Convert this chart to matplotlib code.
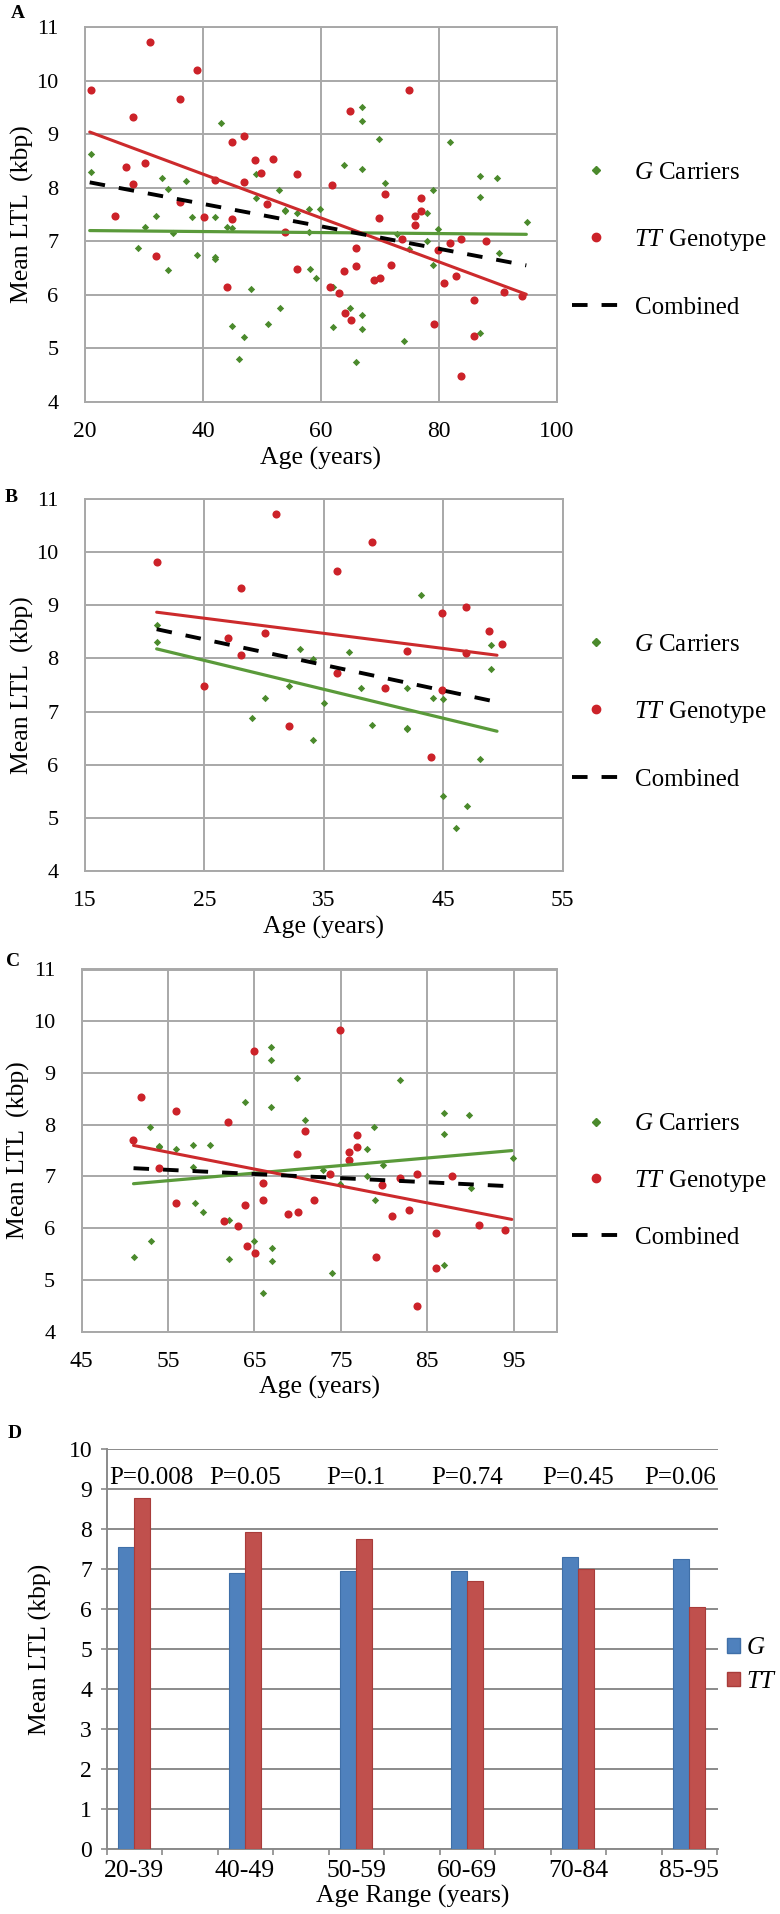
import numpy as np
import matplotlib
matplotlib.use('Agg')
import matplotlib.pyplot as plt
from matplotlib.lines import Line2D
from matplotlib.patches import Patch

plt.rcParams['font.family'] = 'Liberation Serif'
plt.rcParams['mathtext.fontset'] = 'custom'
plt.rcParams['mathtext.rm'] = 'Liberation Serif'
plt.rcParams['mathtext.it'] = 'Liberation Serif:italic'

# --- scatter data: G carriers (age, mean LTL) ---
g_age = [21.0, 21.0, 29.0, 30.1, 32.1, 33.0, 34.1, 34.1, 35.0, 37.1, 38.1, 39.0,
         42.0, 42.0, 42.0, 43.1, 44.1, 45.0, 45.0, 46.1, 47.0, 48.1, 49.0, 49.0,
         51.0, 52.9, 53.0, 53.9, 53.9, 55.9, 57.9, 57.9, 58.1, 59.1, 59.9, 62.0,
         62.0, 63.9, 65.0, 66.0, 66.9, 66.9, 66.9, 67.0, 67.0, 69.9, 70.9, 72.9,
         74.0, 74.9, 78.0, 78.0, 78.9, 79.9, 79.0, 81.9, 86.9, 86.9, 86.9, 89.9,
         90.1, 94.9]
g_ltl = [8.63, 8.30, 6.87, 7.26, 7.48, 8.18, 7.98, 6.47, 7.16, 8.13, 7.45, 6.75,
         7.45, 6.70, 6.67, 9.20, 7.26, 7.24, 5.42, 4.80, 5.22, 6.11, 7.81, 8.26,
         5.45, 7.96, 5.75, 7.59, 7.57, 7.53, 7.61, 7.18, 6.49, 6.32, 7.61, 6.15,
         5.40, 8.43, 5.75, 4.75, 9.50, 9.25, 8.34, 5.62, 5.36, 8.90, 8.09, 7.13,
         5.14, 6.86, 7.53, 7.01, 7.95, 7.22, 6.55, 8.86, 8.22, 7.83, 5.28, 8.18,
         6.78, 7.36]

# --- scatter data: TT genotype ---
tt_age = [21.0, 25.0, 27.0, 28.1, 28.1, 30.1, 31.0, 32.1, 36.1, 36.1, 39.0, 40.1,
          42.0, 44.0, 44.9, 44.9, 46.9, 46.9, 48.8, 49.9,
          50.9, 51.9, 53.9, 55.9, 55.9, 61.9, 61.5, 63.1, 63.9, 64.1, 64.9, 65.1,
          66.0, 66.0, 68.9, 70.0, 69.9, 70.9, 71.9, 73.8, 74.9, 75.9, 75.9, 76.9,
          76.9, 79.1, 79.8, 80.9, 81.8, 82.9, 83.8, 83.8, 86.0, 86.0, 87.9, 91.0,
          94.0]
tt_ltl = [9.82, 7.48, 8.38, 9.32, 8.06, 8.47, 10.72, 6.72, 9.65, 7.73, 10.20, 7.45,
          8.14, 6.14, 8.85, 7.41, 8.96, 8.11, 8.52, 8.27,
          7.70, 8.54, 7.17, 8.26, 6.48, 8.05, 6.14, 6.04, 6.44, 5.66, 9.43, 5.53,
          6.88, 6.54, 6.28, 6.32, 7.44, 7.88, 6.55, 7.05, 9.83, 7.48, 7.31, 7.80,
          7.57, 5.45, 6.84, 6.23, 6.97, 6.36, 7.05, 4.49, 5.90, 5.23, 7.00, 6.06,
          5.97]

# trendline end points: (x0, x1), G, TT, combined
fit_a_x, fit_a_g, fit_a_tt, fit_a_all = [20.8, 94.8], [7.20, 7.13], [9.04, 6.01], [8.10, 6.55]
fit_b_x, fit_b_g, fit_b_tt, fit_b_all = [21.0, 49.5], [8.18, 6.63], [8.87, 8.06], [8.55, 7.18]
fit_c_x, fit_c_g, fit_c_tt, fit_c_all = [51.0, 94.8], [6.86, 7.50], [7.60, 6.17], [7.16, 6.81]

# --- bar data (panel D) ---
age_ranges = ['20-39', '40-49', '50-59', '60-69', '70-84', '85-95']
g_mean = [7.54, 6.89, 6.95, 6.95, 7.30, 7.25]
tt_mean = [8.77, 7.92, 7.75, 6.69, 7.01, 6.04]
p_values = ['P=0.008', 'P=0.05', 'P=0.1', 'P=0.74', 'P=0.45', 'P=0.06']

green = '#4b8a2c'
green_line = '#5a9a3a'
red = '#cc2229'
red_line = '#cc2a2c'
grid_c = '#a8a8a8'

W, H = 780, 1914
fig = plt.figure(figsize=(W / 100, H / 100), dpi=100)


def place(l, t, r, b):
    return fig.add_axes([l / W, 1 - b / H, (r - l) / W, (b - t) / H])


g_age, g_ltl = np.array(g_age), np.array(g_ltl)
tt_age, tt_ltl = np.array(tt_age), np.array(tt_ltl)


def scatter_panel(ax, gm, tm, fx, fg, ftt, fall, xlim, xticks, leg_y, leg_sp):
    ax.scatter(g_age[gm], g_ltl[gm], marker='D', s=14, color=green, lw=0, zorder=3)
    ax.scatter(tt_age[tm], tt_ltl[tm], marker='o', s=34, color=red, lw=0, zorder=3)
    ax.plot(fx, fg, color=green_line, lw=2.3, zorder=4, solid_capstyle='round')
    ax.plot(fx, ftt, color=red_line, lw=2.2, zorder=4, solid_capstyle='round')
    ax.plot(fx, fall, color='black', lw=2.8, ls=(0, (4, 3.6)), zorder=4)
    ax.set_xlim(*xlim)
    ax.set_ylim(4, 11)
    ax.set_xticks(xticks)
    ax.set_yticks(range(4, 12))
    ax.grid(True, color=grid_c, lw=1.4)
    ax.set_axisbelow(True)
    for s in ax.spines.values():
        s.set_color(grid_c)
        s.set_linewidth(1.4)
    ax.tick_params(axis='x', length=0, pad=14, labelsize=17)
    ax.tick_params(axis='y', length=0, pad=19, labelsize=16)
    ax.set_xlabel('Age (years)', fontsize=18.5, labelpad=3)
    ax.set_ylabel('Mean LTL  (kbp)', fontsize=18.5, labelpad=2)
    handles = [Line2D([], [], marker='D', ms=4, color=green, lw=0),
               Line2D([], [], marker='o', ms=6, color=red, lw=0),
               Line2D([], [], color='black', lw=2.8, ls=(0, (4, 3.6)))]
    labels = [r'$\mathit{G}$ Carriers', r'$\mathit{TT}$ Genotype', 'Combined']
    ax.legend(handles, labels, loc='center left', bbox_to_anchor=(572 / W, 1 - leg_y / H),
              bbox_transform=fig.transFigure, frameon=False, borderpad=0,
              borderaxespad=0, handlelength=1.9, handletextpad=0.6,
              labelspacing=leg_sp, fontsize=18)


# Panel A
ax_a = place(85, 27, 557, 402)
scatter_panel(ax_a, np.ones(len(g_age), bool), np.ones(len(tt_age), bool),
              fit_a_x, fit_a_g, fit_a_tt, fit_a_all, (20, 100), range(20, 101, 20), 240, 1.72)

# Panel B: under 50
ax_b = place(85, 499, 562.7, 871)
scatter_panel(ax_b, g_age <= 50, tt_age <= 50,
              fit_b_x, fit_b_g, fit_b_tt, fit_b_all, (15, 55), range(15, 56, 10), 712, 1.72)

# Panel C: over 50
ax_c = place(81.7, 969.5, 556.7, 1331.7)
scatter_panel(ax_c, g_age > 50, tt_age > 50,
              fit_c_x, fit_c_g, fit_c_tt, fit_c_all, (45, 100), range(45, 96, 10), 1181, 1.3)

# Panel D: bars
ax_d = place(106.7, 1449, 718.3, 1849)
x = np.arange(len(age_ranges))
bw = 0.14
ax_d.bar(x - bw / 2, g_mean, bw, color='#4f81bd', edgecolor='#3f6fa8', lw=0.8, zorder=3)
ax_d.bar(x + bw / 2, tt_mean, bw, color='#c0504d', edgecolor='#a83c3a', lw=0.8, zorder=3)
xmin, xmax = -0.246, 5.264
ax_d.set_xlim(xmin, xmax)
ax_d.set_ylim(0, 10)
ax_d.set_xticks(x)
ax_d.set_xticklabels(age_ranges)
ax_d.set_xticks(np.arange(xmin, xmax + 0.01, 0.5), minor=True)
ax_d.set_yticks(range(0, 11))
ax_d.yaxis.grid(True, color='#8a8a8a', lw=1.4)
ax_d.set_axisbelow(True)
for side in ['top', 'right']:
    ax_d.spines[side].set_visible(False)
for side in ['left', 'bottom']:
    ax_d.spines[side].set_color('#8a8a8a')
    ax_d.spines[side].set_linewidth(1.4)
ax_d.tick_params(axis='x', which='major', length=0, pad=8, labelsize=18.5)
ax_d.tick_params(axis='x', which='minor', length=4, width=1.2, color='#8a8a8a', direction='out')
ax_d.tick_params(axis='y', length=4.5, width=1.2, color='#8a8a8a', pad=6, labelsize=17)
ax_d.set_xlabel('Age Range (years)', fontsize=18.5, labelpad=2)
ax_d.set_ylabel('Mean LTL (kbp)', fontsize=18.5, labelpad=12)

p_shift = [0.16, 0, 0, 0, 0, -0.08]
for i, p in enumerate(p_values):
    ax_d.text(i + p_shift[i], 9.28, p, ha='center', va='center', fontsize=18)

ax_d.legend([Patch(facecolor='#4f81bd', edgecolor='#3f6fa8'),
             Patch(facecolor='#c0504d', edgecolor='#a83c3a')],
            [r'$\mathit{G}$', r'$\mathit{TT}$'], loc='center left',
            bbox_to_anchor=(727 / W, 1 - 1665 / H), bbox_transform=fig.transFigure,
            frameon=False, borderpad=0, borderaxespad=0, handlelength=0.5,
            handleheight=0.5, handletextpad=0.25, labelspacing=0.45, fontsize=18)

# panel letters
for letter, px, py in [('A', 18, 14), ('B', 11, 498), ('C', 13, 961), ('D', 15, 1433)]:
    fig.text(px / W, 1 - py / H, letter, fontsize=14, fontweight='bold',
             ha='center', va='center')

fig.savefig('out.png', dpi=100)
